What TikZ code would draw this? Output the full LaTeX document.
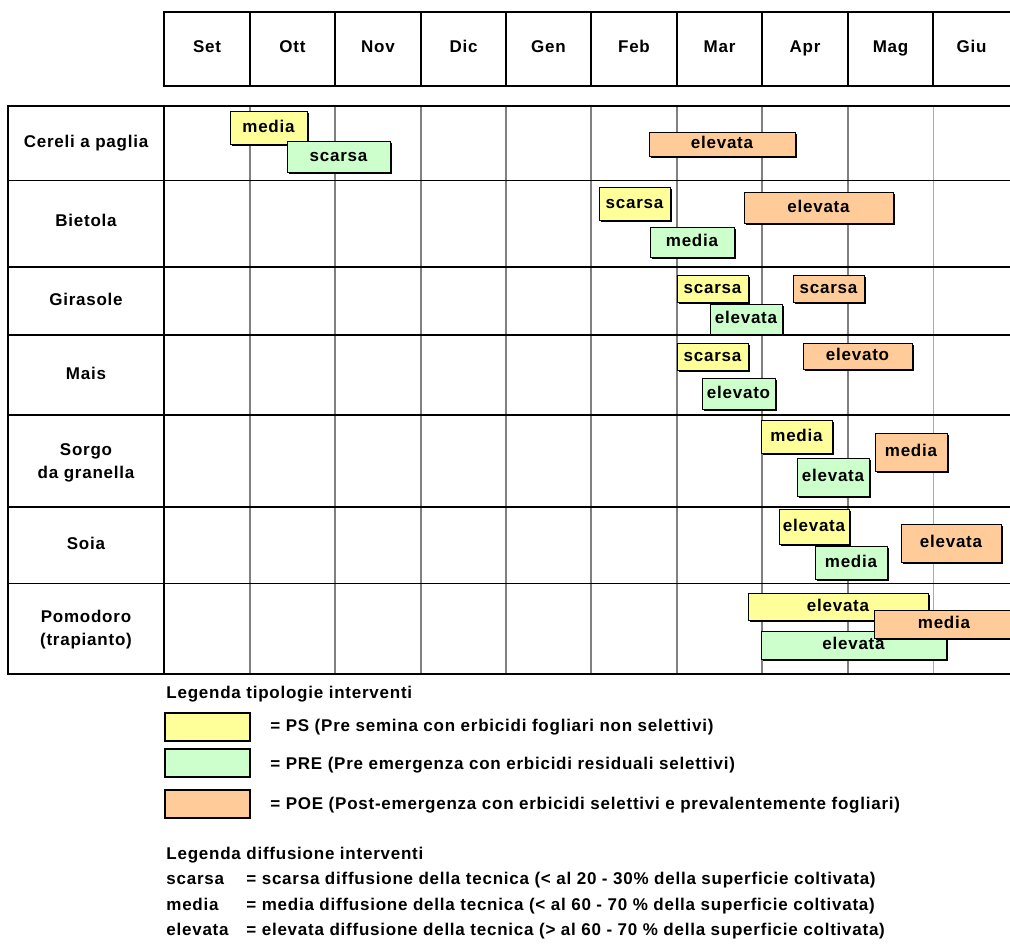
\documentclass[tikz,border=0pt]{standalone}
\usepackage{fontspec}
\setmainfont{Liberation Sans}[LetterSpace=4.5]
\usepackage{tikz}
\usetikzlibrary{
    positioning,
    shadows
}
\definecolor{psYellow}{RGB}{255, 255, 153}
\definecolor{preGreen}{RGB}{204, 255, 204}
\definecolor{poeOrange}{RGB}{255, 204, 153}
\definecolor{gridGray}{RGB}{128, 128, 128}
\definecolor{gridLight}{RGB}{170, 170, 170}

\tikzset{
    oneLine/.style={text height=6.4pt, text depth=1.8pt},
    taskBar/.style={oneLine, draw=black, line width=0.5pt, inner sep=0pt,
        drop shadow={shadow xshift=1.2pt, shadow yshift=-1.2pt, fill=black, opacity=1}},
    psBar/.style={taskBar, fill=psYellow},
    preBar/.style={taskBar, fill=preGreen},
    poeBar/.style={taskBar, fill=poeOrange},
    keyBox/.style={draw=black, line width=1pt, inner sep=0pt,
        minimum width=42.5pt, minimum height=14pt},
    keyText/.style={oneLine, anchor=west, inner sep=0pt},
    cropLabel/.style={align=center, inner sep=0pt}
}
% bar from (x1,y1) to (x2,y2), in pixels of the chart
\newcommand{\taskbar}[7]{%
    \node[#1, minimum width={(#5-#3)*0.5pt}, minimum height={(#6-#4)*0.5pt}]
        (#2) at ({(#3+#5)/2}, {(#4+#6)/2}) {#7};}

\begin{document}
\begin{tikzpicture}[x=0.5pt, y=-0.5pt,
        font=\fontsize{8.5}{11.5}\selectfont\bfseries]
    \useasboundingbox (0,0) rectangle (1010,950);

    % month header
    \draw[line width=1pt] (1012,12) -- (164,12) -- (164,86) -- (1012,86);
    \foreach \x in {250,335,421,506,591,677,762,848,933}
        \draw[line width=1pt] (\x,12) -- (\x,86);
    \foreach \m/\x in {Set/207, Ott/292.5, Nov/378, Dic/463.5, Gen/548.5,
            Feb/634, Mar/719.5, Apr/805, Mag/890.5, Giu/971.5}
        \node[oneLine] (m\m) at (\x,47.5) {\m};

    % grid of the crops
    \foreach \x in {250,335,421,506,591,677,762,848}
        \draw[gridGray, line width=1pt] (\x,106) -- (\x,674);
    \draw[gridLight, line width=0.5pt] (933,106) -- (933,674);
    \draw[line width=1pt] (1012,106) -- (8,106) -- (8,674) -- (1012,674);
    \draw[line width=0.7pt] (164,106) -- (164,674);
    \foreach \y in {180,583}
        \draw[line width=0.5pt] (8,\y) -- (1012,\y);
    \foreach \y in {267,335,415,507}
        \draw[line width=1pt] (8,\y) -- (1012,\y);

    \node[cropLabel, oneLine] (cereali) at (86,143) {Cereli a paglia};
    \node[cropLabel, oneLine] (bietola) at (86,222) {Bietola};
    \node[cropLabel, oneLine] (girasole) at (86,301) {Girasole};
    \node[cropLabel, oneLine] (mais) at (86,375) {Mais};
    \node[cropLabel] (sorgo) at (86,463) {Sorgo\\da granella};
    \node[cropLabel, oneLine] (soia) at (86,545) {Soia};
    \node[cropLabel] (pomodoro) at (86,630) {Pomodoro\\(trapianto)};

    % interventi
    \taskbar{psBar}{cerPS}{230}{111}{307}{144}{media}
    \taskbar{preBar}{cerPRE}{287}{141}{390}{172}{scarsa}
    \taskbar{poeBar}{cerPOE}{649}{132}{795}{156}{elevata}

    \taskbar{psBar}{biePS}{599}{187}{670}{220}{scarsa}
    \taskbar{poeBar}{biePOE}{744}{192}{893}{223}{elevata}
    \taskbar{preBar}{biePRE}{650}{227}{734}{257}{media}

    \taskbar{psBar}{girPS}{677}{275}{748}{302}{scarsa}
    \taskbar{poeBar}{girPOE}{793}{275}{864}{302}{scarsa}
    \taskbar{preBar}{girPRE}{710}{304}{782}{334}{elevata}

    \taskbar{psBar}{maiPS}{677}{343}{748}{370}{scarsa}
    \taskbar{poeBar}{maiPOE}{803}{343}{912}{369}{elevato}
    \taskbar{preBar}{maiPRE}{702}{378}{775}{409}{elevato}

    \taskbar{psBar}{sorPS}{761}{420}{832}{453}{media}
    \taskbar{poeBar}{sorPOE}{875}{433}{947}{471}{media}
    \taskbar{preBar}{sorPRE}{797}{458}{869}{496}{elevata}

    \taskbar{psBar}{soiPS}{779}{509}{849}{544}{elevata}
    \taskbar{poeBar}{soiPOE}{901}{524}{1001}{562}{elevata}
    \taskbar{preBar}{soiPRE}{815}{546}{887}{579}{media}

    \taskbar{psBar}{pomPS}{748}{593}{928}{620}{elevata}
    \taskbar{preBar}{pomPRE}{761}{631}{946}{659}{elevata}
    \taskbar{poeBar}{pomPOE}{874}{610}{1014}{638}{media}

    % legende
    \node[keyText] (tipTitle) at (166,694) {Legenda tipologie interventi};
    \node[keyBox, fill=psYellow] (keyPS) at (207,727) {};
    \node[keyBox, fill=preGreen] (keyPRE) at (207,763) {};
    \node[keyBox, fill=poeOrange] (keyPOE) at (207,804) {};
    \node[keyText] (txtPS) at (270,727) {= PS (Pre semina con erbicidi fogliari non selettivi)};
    \node[keyText] (txtPRE) at (270,765) {= PRE (Pre emergenza con erbicidi residuali selettivi)};
    \node[keyText] (txtPOE) at (270,805) {= POE (Post-emergenza con erbicidi selettivi e prevalentemente fogliari)};

    \node[keyText] (difTitle) at (166,855) {Legenda diffusione interventi};
    \foreach \w/\y/\t in {scarsa/880/{= scarsa diffusione della tecnica (< al 20 - 30\% della superficie coltivata)},
            media/906/{= media diffusione della tecnica (< al 60 - 70 \% della superficie coltivata)},
            elevata/931/{= elevata diffusione della tecnica (> al 60 - 70 \% della superficie coltivata)}} {
        \node[keyText] (w\w) at (166,\y) {\w};
        \node[keyText] (d\w) at (246,\y) {\t};
    }
\end{tikzpicture}
\end{document}
